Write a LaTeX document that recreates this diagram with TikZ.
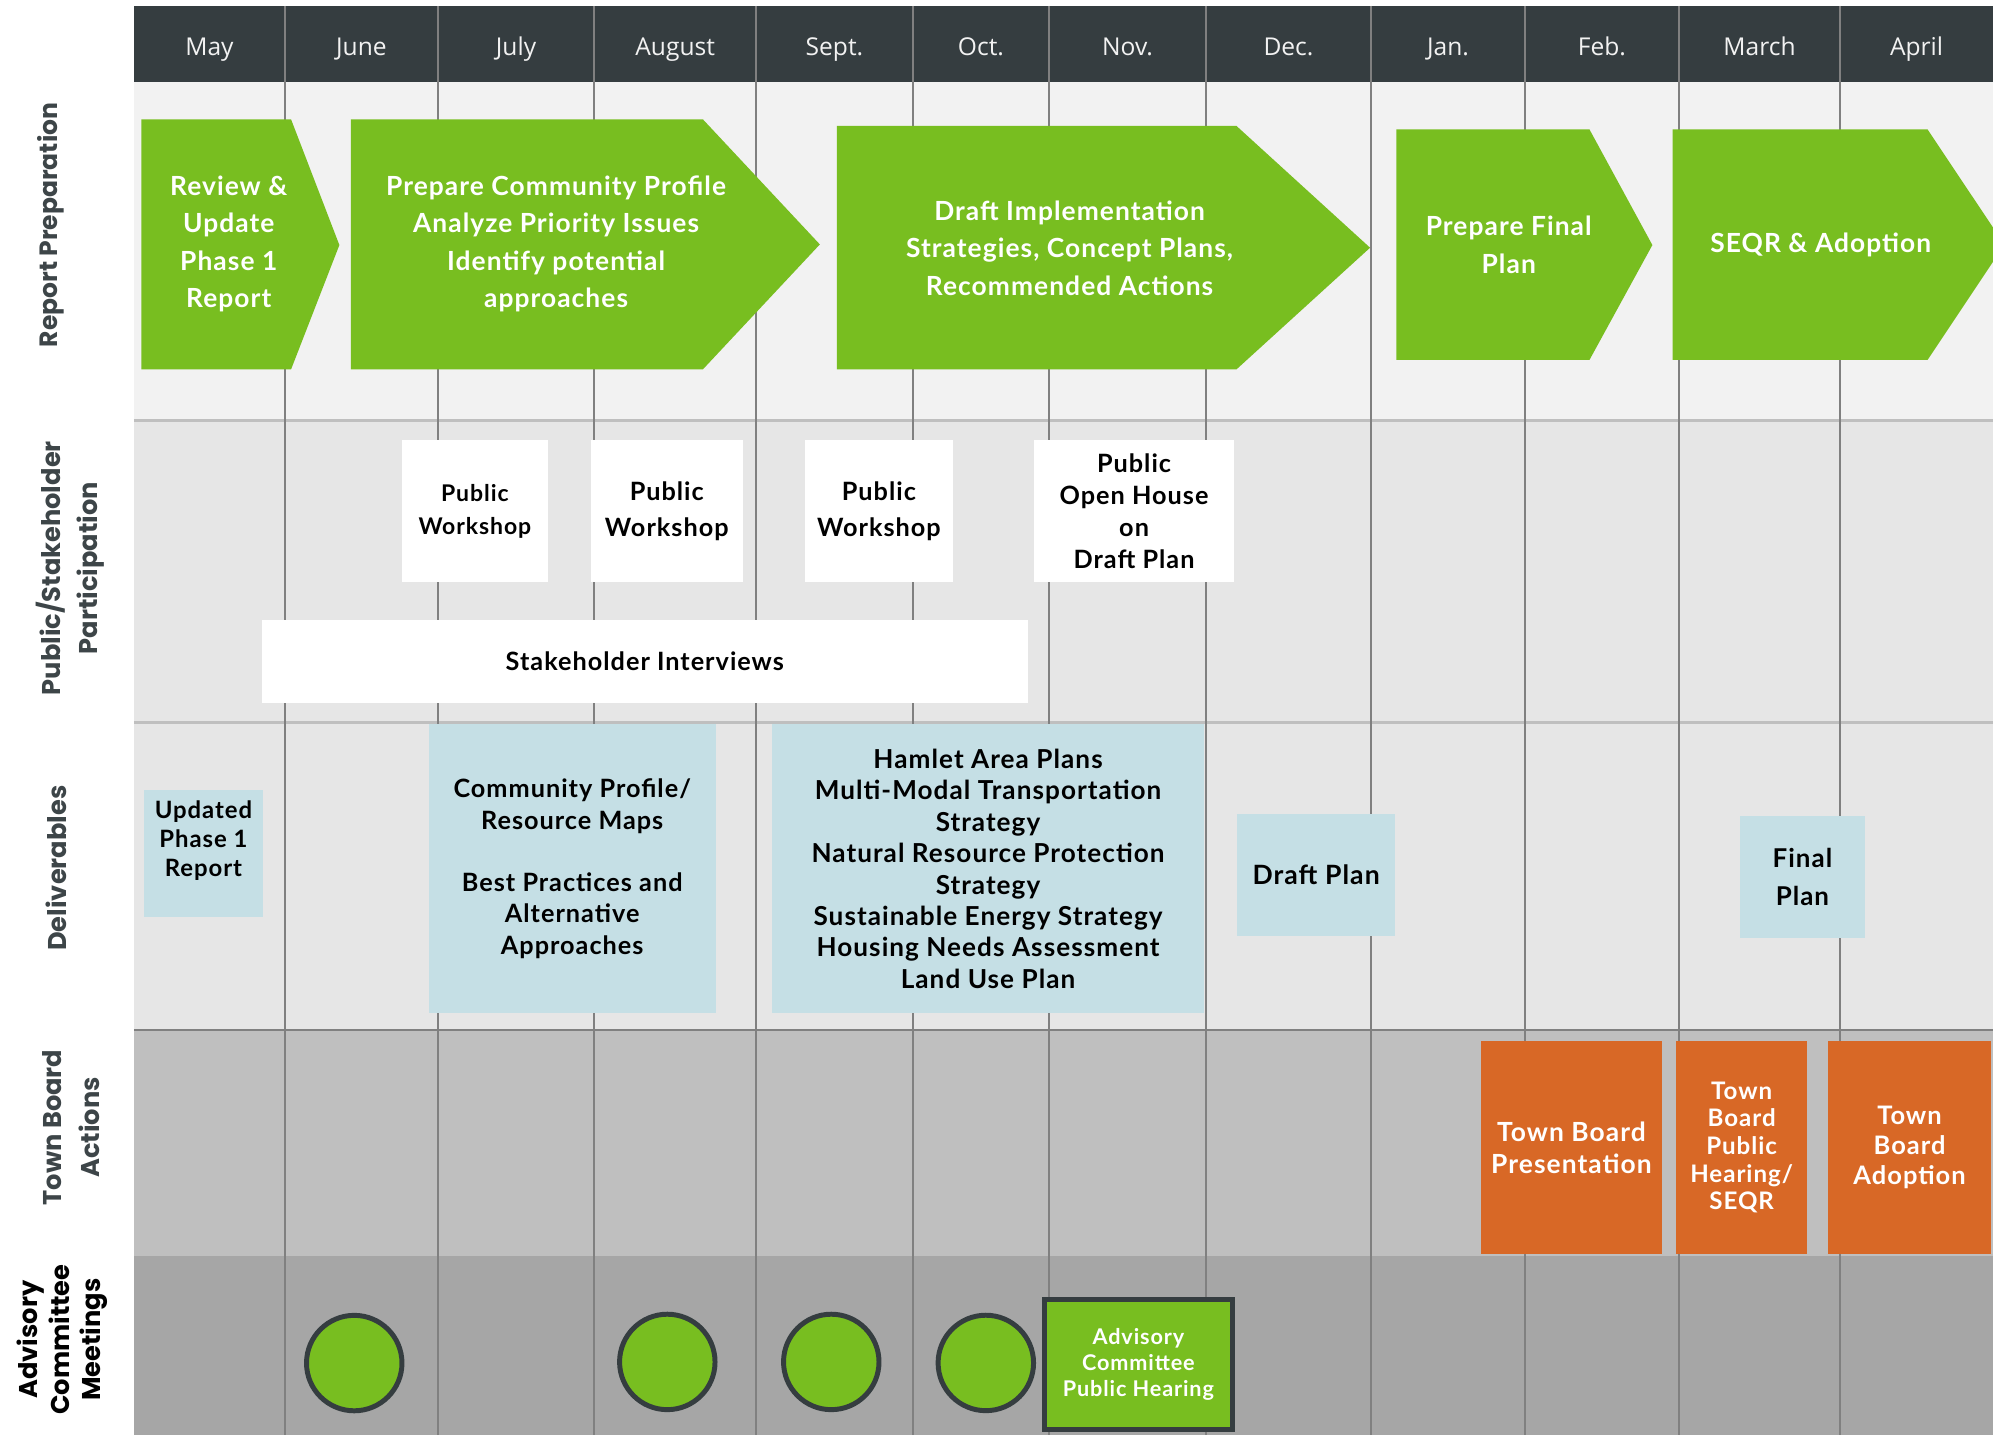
\documentclass[tikz,border=0pt]{standalone}
\usepackage{fontspec}
\setmainfont{Open Sans}
\newfontfamily\boxfont{Lato}[LetterSpace=4]
\newfontfamily\lanefont{Poppins}
\usepackage{tikz}
\usetikzlibrary{positioning}

\definecolor{hdrgray}{HTML}{353D40}
\definecolor{leafgreen}{HTML}{78BE20}
\definecolor{paleblue}{HTML}{C5DFE5}
\definecolor{burnt}{HTML}{D86826}
\definecolor{rowA}{HTML}{F2F2F2}
\definecolor{rowB}{HTML}{E6E6E6}
\definecolor{rowC}{HTML}{BFBFBF}
\definecolor{rowD}{HTML}{A6A6A6}
\definecolor{gridgray}{HTML}{808080}
\definecolor{lanetext}{HTML}{3D4548}

\newcommand{\fs}[2]{\fontsize{#1}{#2}\selectfont}

\begin{document}
\begin{tikzpicture}[x=0.2mm, y=-0.2mm,
	month/.style     = {anchor=base, text=rowA, font=\fs{11}{13}},
	lane/.style      = {rotate=90, align=center, text=lanetext, font=\lanefont\bfseries},
	arrowtext/.style = {align=center, text=white, font=\boxfont\bfseries\fs{11.8}{16.8}},
	eventbox/.style  = {fill=white, align=center, inner sep=0pt, font=\boxfont\bfseries},
	delbox/.style    = {fill=paleblue, align=center, inner sep=0pt, font=\boxfont\bfseries},
	boardbox/.style  = {fill=burnt, text=white, align=center, inner sep=0pt, font=\boxfont\bfseries},
	meeting/.style   = {circle, fill=leafgreen, draw=hdrgray, line width=0.78mm, minimum size=15.02mm, inner sep=0pt},
	gridline/.style  = {draw=gridgray, line width=0.9pt}]

	\useasboundingbox (0,0) rectangle (1568,1129);

	% ---------------------
	% Lanes & header
	\fill[rowA] (105.4,64.5)  rectangle (1568,330.8);
	\fill[rowB] (105.4,330.8) rectangle (1568,568.6);
	\fill[rowB] (105.4,568.6) rectangle (1568,810.4);
	\fill[rowC] (105.4,810.4) rectangle (1568,988.2);
	\fill[rowD] (105.4,988.2) rectangle (1568,1129);
	\fill[hdrgray] (105.4,4.7) rectangle (1568,64.5);

	\draw[draw=rowC, line width=1.1pt] (105.4,330.8) -- (1568,330.8);
	\draw[draw=rowC, line width=1.1pt] (105.4,568.6) -- (1568,568.6);
	\draw[gridline] (105.4,810.4) -- (1568,810.4);

	\foreach \x in {224.1,344.5,467.4,595.0,718.0,825.5,948.7,1078.6,1199.8,1320.8,1447.7}
		\draw[gridline] (\x,4.7) -- (\x,1129);

	\foreach \m/\x [count=\i] in {May/164.8, June/284.3, July/406.0, August/531.2, Sept./656.5, Oct./771.8,
			Nov./887.1, Dec./1013.7, Jan./1139.2, Feb./1260.3, March/1384.3, April/1507.9}
		\node[month] (m\i) at (\x,43.3) {\m};

	% ---------------------
	% Lane titles
	\node[lane, font=\lanefont\bfseries\fs{11.2}{16.5}] (lanereport)  at (40,177)  {Report Preparation};
	\node[lane, font=\lanefont\bfseries\fs{11.5}{16.5}] (lanepublic)  at (55,447)  {Public/Stakeholder\\Participation};
	\node[lane, font=\lanefont\bfseries\fs{11.5}{16.5}] (lanedeliver) at (44,683)  {Deliverables};
	\node[lane, font=\lanefont\bfseries\fs{11.5}{17}]   (laneboard)   at (56,887)  {Town Board\\Actions};
	\node[lane, text=black, font=\lanefont\bfseries\fs{11.5}{14}] (laneadvisory) at (49,1054) {Advisory\\Committee\\Meetings};

	% ---------------------
	% Report preparation arrows
	\fill[leafgreen] (111.2,93.9) -- (229,93.9) -- (267,192.8) -- (229,290.6) -- (111.2,290.6) -- cycle;
	\fill[leafgreen] (276.1,93.9) -- (553,93.9) -- (645,192.3) -- (553,290.6) -- (276.1,290.6) -- cycle;
	\fill[leafgreen] (658.4,99.1) -- (972.8,99.1) -- (1077.9,194.9) -- (972.8,290.6) -- (658.4,290.6) -- cycle;
	\fill[leafgreen] (1098.6,101.8) -- (1250.5,101.8) -- (1300,192.8) -- (1250.5,283.2) -- (1098.6,283.2) -- cycle;
	\begin{scope}
		\clip (0,0) rectangle (1568,1129);
		\fill[leafgreen] (1316,101.8) -- (1516.5,101.8) -- (1577,192.5) -- (1516.5,283.2) -- (1316,283.2) -- cycle;
	\end{scope}

	\node[arrowtext] (review)  at (180,192)    {Review \&\\Update\\Phase 1\\Report};
	\node[arrowtext] (profile) at (437.5,192)  {Prepare Community Profile\\Analyze Priority Issues\\Identify potential\\approaches};
	\node[arrowtext] (draft)   at (841.5,195)  {Draft Implementation\\Strategies, Concept Plans,\\Recommended Actions};
	\node[arrowtext] (final)   at (1187,192.5) {Prepare Final\\Plan};
	\node[arrowtext] (seqr)    at (1432.5,192.5) {SEQR \& Adoption};

	% ---------------------
	% Public / stakeholder participation
	\node[eventbox, minimum width=22.92mm, minimum height=22.4mm, font=\boxfont\bfseries\fs{10.3}{14.8}] (work1) at (373.6,402.2) {Public\\Workshop};
	\node[eventbox, minimum width=23.84mm, minimum height=22.4mm, font=\boxfont\bfseries\fs{11.3}{16.4}] (work2) at (524.6,402.2) {Public\\Workshop};
	\node[eventbox, minimum width=23.4mm,  minimum height=22.4mm, font=\boxfont\bfseries\fs{11.3}{16.4}] (work3) at (691.5,402.2) {Public\\Workshop};
	\node[eventbox, minimum width=31.5mm,  minimum height=22.4mm, font=\boxfont\bfseries\fs{11.3}{14.2}] (openhouse) at (892.25,402.2) {Public\\Open House\\on\\Draft Plan};
	\node[eventbox, minimum width=120.48mm, minimum height=13.12mm, font=\boxfont\bfseries\fs{11.3}{13}] (interviews) at (507.3,520.6) {Stakeholder Interviews};

	% ---------------------
	% Deliverables
	\node[delbox, minimum width=18.68mm, minimum height=19.92mm] (updated) at (160.1,671.4) {};
	\node[align=center, inner sep=0pt, font=\boxfont\bfseries\fs{10.7}{13}] (updatedtext) at (160.1,661.5) {Updated\\Phase 1\\Report};
	\node[delbox, minimum width=45.12mm, minimum height=45.54mm, font=\boxfont\bfseries\fs{11.3}{14}] (maps) at (450.2,683.45)
		{Community Profile/\\Resource Maps\\[14pt]Best Practices and\\Alternative\\Approaches};
	\node[delbox, minimum width=67.98mm, minimum height=45.54mm, font=\boxfont\bfseries\fs{11.7}{14.06}] (hamlet) at (777.35,683.45)
		{Hamlet Area Plans\\Multi-Modal Transportation\\Strategy\\Natural Resource Protection\\Strategy\\Sustainable Energy Strategy\\Housing Needs Assessment\\Land Use Plan};
	\node[delbox, minimum width=24.86mm, minimum height=19.16mm, font=\boxfont\bfseries\fs{11.9}{14}] (draftplan) at (1035.45,688.3) {Draft Plan};
	\node[delbox, minimum width=19.62mm, minimum height=19.14mm, font=\boxfont\bfseries\fs{11.6}{17}] (finalplan) at (1418.05,689.85) {Final\\Plan};

	% ---------------------
	% Town board actions
	\node[boardbox, minimum width=28.46mm, minimum height=33.52mm, font=\boxfont\bfseries\fs{11.8}{14.2}] (present)  at (1236.35,902.8) {Town Board\\Presentation};
	\node[boardbox, minimum width=20.66mm, minimum height=33.52mm, font=\boxfont\bfseries\fs{10.8}{12.4}] (hearing)  at (1370.25,902.8) {Town\\Board\\Public\\Hearing/\\SEQR};
	\node[boardbox, minimum width=25.66mm, minimum height=33.52mm, font=\boxfont\bfseries\fs{11.4}{13.4}] (adoption) at (1502.35,902.8) {Town\\Board\\Adoption};

	% ---------------------
	% Advisory committee meetings
	\node[meeting] (acm1) at (278.7,1072.4) {};
	\node[meeting] (acm2) at (525,1071.5) {};
	\node[meeting] (acm3) at (654,1071.5) {};
	\node[meeting] (acm4) at (775.6,1072.3) {};
	\node[fill=leafgreen, draw=hdrgray, line width=0.78mm, text=white, align=center, inner sep=0pt,
		minimum width=29.64mm, minimum height=20.36mm, font=\boxfont\bfseries\fs{9.7}{11.6}] (acmhearing) at (895.65,1073.55)
		{Advisory\\Committee\\Public Hearing};

\end{tikzpicture}
\end{document}
